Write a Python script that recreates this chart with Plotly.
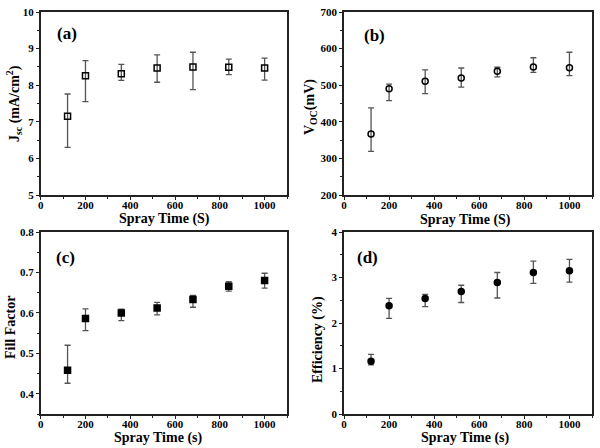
import plotly.graph_objects as go
from plotly.subplots import make_subplots

spray_time = [120, 200, 360, 520, 680, 840, 1000]

jsc = [7.15, 8.26, 8.31, 8.47, 8.50, 8.49, 8.47]
jsc_hi = [7.76, 8.67, 8.57, 8.83, 8.90, 8.71, 8.74]
jsc_lo = [6.30, 7.55, 8.13, 8.08, 7.88, 8.29, 8.14]

voc = [367, 490, 511, 520, 538, 550, 548]
voc_hi = [438, 503, 542, 547, 549, 575, 590]
voc_lo = [319, 458, 477, 495, 523, 535, 526]

ff = [0.458, 0.586, 0.600, 0.612, 0.633, 0.666, 0.680]
ff_hi = [0.520, 0.610, 0.609, 0.626, 0.643, 0.677, 0.698]
ff_lo = [0.426, 0.556, 0.581, 0.595, 0.614, 0.654, 0.661]

eff = [1.16, 2.38, 2.54, 2.69, 2.89, 3.11, 3.15]
eff_hi = [1.31, 2.54, 2.63, 2.83, 3.11, 3.36, 3.40]
eff_lo = [1.08, 2.10, 2.36, 2.45, 2.55, 2.87, 2.90]

FONT = "Liberation Serif, Times New Roman, serif"
AXC = "#222222"
ERRC = "#555555"

W, H = 600, 448


def fx(px):
    return px / W


def fy(py):
    return 1 - py / H


fig = make_subplots(rows=2, cols=2)

panels = [
    (1, 1, jsc, jsc_hi, jsc_lo, "square-open"),
    (1, 2, voc, voc_hi, voc_lo, "circle-open"),
    (2, 1, ff, ff_hi, ff_lo, "square"),
    (2, 2, eff, eff_hi, eff_lo, "circle"),
]
for r, c, y, hi, lo, sym in panels:
    fig.add_trace(go.Scatter(
        x=spray_time, y=y, mode="markers",
        marker=dict(symbol=sym, size=6, color="black",
                    line=dict(color="black", width=1.5)),
        error_y=dict(type="data", symmetric=False,
                     array=[h - v for h, v in zip(hi, y)],
                     arrayminus=[v - l for v, l in zip(y, lo)],
                     color=ERRC, thickness=1.3, width=3),
        showlegend=False), row=r, col=c)

xd_left = [fx(40.7), fx(287)]
xd_right = [fx(344), fx(592)]
yd_top = [fy(195), fy(12)]
yd_bot = [fy(414), fy(232)]

xaxes = ["xaxis", "xaxis2", "xaxis3", "xaxis4"]
yaxes = ["yaxis", "yaxis2", "yaxis3", "yaxis4"]
xdoms = [xd_left, xd_right, xd_left, xd_right]
ydoms = [yd_top, yd_top, yd_bot, yd_bot]
yranges = [[5, 10], [200, 700], [0.35, 0.8], [0, 4]]
ydticks = [1, 100, 0.1, 1]
ytick0 = [5, 200, 0.4, 0]


def common():
    return dict(
        showgrid=False, zeroline=False, showline=True, linecolor=AXC, linewidth=1.5,
        mirror=True, ticks="outside", ticklen=3, tickwidth=1.2, tickcolor=AXC,
        automargin=False,
        tickfont=dict(family=FONT, size=11, color="black", weight=700),
    )


for i in range(4):
    fig.layout[xaxes[i]].update(
        domain=xdoms[i], range=[0, 1100], dtick=200, tick0=0, ticklabelstandoff=-4,
        minor=dict(dtick=100, ticks="outside", ticklen=2, tickcolor=AXC),
        **common())
    fig.layout[yaxes[i]].update(
        domain=ydoms[i], range=yranges[i], dtick=ydticks[i], tick0=ytick0[i],
        minor=dict(dtick=ydticks[i] / 2, ticks="outside", ticklen=2, tickcolor=AXC),
        **common())


def ann(text, x, y, size, angle=0):
    fig.add_annotation(text=text, x=fx(x), y=fy(y), xref="paper", yref="paper",
                       showarrow=False, textangle=angle, xanchor="center", yanchor="middle",
                       font=dict(family=FONT, size=size, color="black", weight=700))


# axis titles
ann("Spray Time (S)", 164, 219, 14)
ann("Spray Time (S)", 465, 220, 14)
ann("Spray Time (s)", 158, 438, 14)
ann("Spray Time (s)", 465, 438, 14)
ann("J<sub>sc</sub> (mA/cm<sup>2</sup>)", 14, 104, 14, -90)
ann("V<sub>OC</sub>(mV)", 310, 107, 14, -90)
ann("Fill Factor", 10, 328, 14, -90)
ann("Efficiency (%)", 318, 340, 14, -90)

# panel labels
ann("(a)", 67, 34, 17)
ann("(b)", 374, 35, 17)
ann("(c)", 65, 257, 17)
ann("(d)", 367, 257, 17)

fig.update_layout(
    width=W, height=H, margin=dict(l=0, r=0, t=0, b=0, pad=0, autoexpand=False),
    paper_bgcolor="white", plot_bgcolor="white",
    font=dict(family=FONT, color="black"),
)

fig.write_html("out.html", config={"displayModeBar": False},
               post_script="document.body.style.margin='0';")
